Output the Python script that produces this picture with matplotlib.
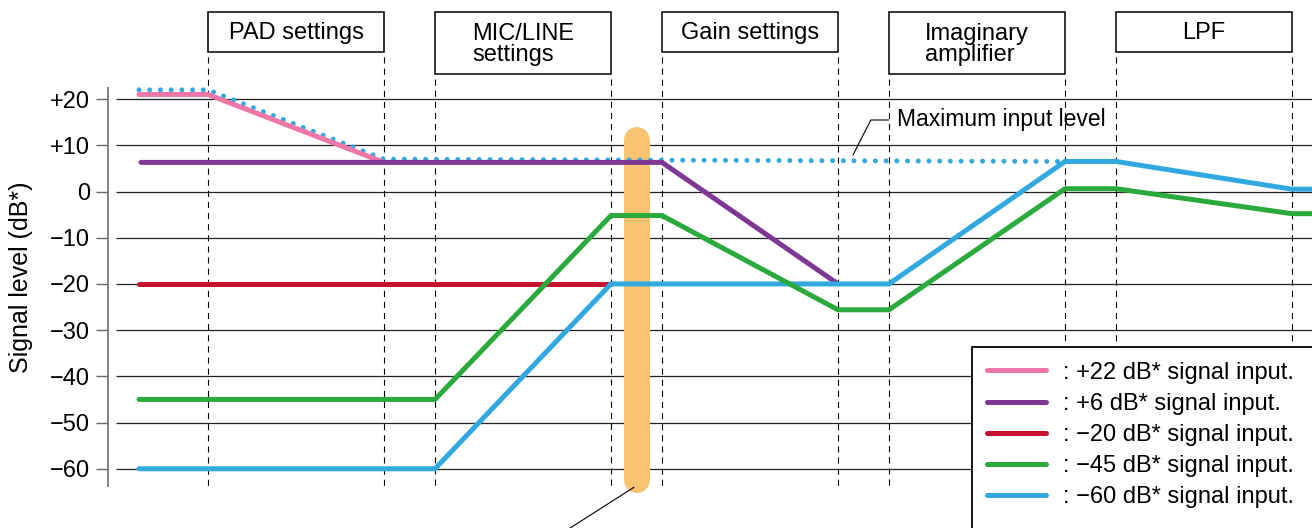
import matplotlib
matplotlib.use("Agg")
import matplotlib.pyplot as plt
from matplotlib.patches import Rectangle

plt.rcParams['font.family'] = ['Liberation Sans', 'DejaVu Sans']
plt.rcParams['lines.scale_dashes'] = False

# ---------------- data ----------------
stage_labels = ["PAD settings", "MIC/LINE\nsettings", "Gain settings",
                "Imaginary\namplifier", "LPF"]
stage_left = [208, 435, 662, 889, 1116]      # stage start positions
stage_right = [384, 611, 838, 1065, 1292]    # stage end positions

yticks = [-60, -50, -40, -30, -20, -10, 0, 10, 20]
ytick_labels = ["\u221260", "\u221250", "\u221240", "\u221230", "\u221220",
                "\u221210", "0", "+10", "+20"]

series_labels = [": +22 dB* signal input.", ": +6 dB* signal input.",
                 ": \u221220 dB* signal input.", ": \u221245 dB* signal input.",
                 ": \u221260 dB* signal input."]
series_colors = ["#EE77A8", "#7E3794", "#C4122F", "#2AAA3C", "#32A8E0"]

pink_x = [139, 208, 384]
pink_y = [21, 21, 6.3]
purple_x = [141, 662, 838]
purple_y = [6.3, 6.3, -20]
red_x = [139, 611]
red_y = [-20, -20]
green_x = [139, 435, 611, 662, 838, 889, 1065, 1116, 1292, 1312]
green_y = [-45, -45, -5.2, -5.2, -25.6, -25.6, 0.6, 0.6, -4.8, -4.8]
blue_x = [139, 435, 611, 889, 1065, 1116, 1292, 1312]
blue_y = [-60, -60, -20, -20, 6.5, 6.5, 0.5, 0.5]
maxlvl_x = [139, 208, 384, 1065]
maxlvl_y = [22, 22, 7, 6.5]

# ---------------- figure ----------------
W, H = 1312, 528
fig = plt.figure(figsize=(W / 100, H / 100), dpi=100)
ax = fig.add_axes([108 / W, (H - 486) / H, (W - 108) / W, (486 - 88) / H])
ax.set_xlim(108, 1312)
ax.set_ylim(-63.73, 22.4)
ax.patch.set_alpha(0)

FS = 17
for s in ["top", "right", "bottom"]:
    ax.spines[s].set_visible(False)
ax.spines["left"].set_color("#777777")
ax.spines["left"].set_linewidth(1.3)
ax.set_xticks([])
ax.set_yticks(yticks)
ax.set_yticklabels(ytick_labels, fontsize=FS)
ax.tick_params(axis="y", direction="out", length=9, width=1.0,
               color="#666666", pad=4)
ax.set_ylabel("Signal level (dB*)", fontsize=18)
ax.yaxis.set_label_coords((21 - 108) / 1204, (486 - 277) / 398)
ax.yaxis.label.set_va("center")

# grid lines
ax.hlines(yticks, 116, 1312, color="#222222", lw=0.9, zorder=1)

# stage boxes and dashed boundaries
box_top, box_bot_short, box_bot_tall = 38.85, 30.19, 25.43
dash_bottom = -64.6
for lab, xl, xr in zip(stage_labels, stage_left, stage_right):
    tall = "\n" in lab
    bot = box_bot_tall if tall else box_bot_short
    ax.add_patch(Rectangle((xl, bot), xr - xl, box_top - bot, fill=False,
                           ec="black", lw=1.1, clip_on=False, zorder=2))
    ax.text((xl + xr) / 2, (box_top + bot) / 2 - 0.3, lab, ha="center",
            va="center", multialignment="left", fontsize=FS,
            linespacing=0.92, clip_on=False)
    dtop = bot - 1.1
    for xv in (xl, xr):
        ax.plot([xv, xv], [dtop, dash_bottom], color="black", lw=0.8,
                dashes=[4.4, 3.6], clip_on=False, zorder=1.5)

# highlight bar
ax.plot([637, 637], [11.2, -62.4], color="#F8C471", lw=18.7,
        solid_capstyle="round", zorder=1.2, clip_on=False)
ax.annotate("", xy=(634, -64.0), xytext=(558, -74.5),
            arrowprops=dict(arrowstyle="-", color="black", lw=0.8,
                            shrinkA=0, shrinkB=0),
            annotation_clip=False)

# maximum input level (dotted)
ax.plot(maxlvl_x, maxlvl_y, color="#34A9E1", lw=3.6, dashes=[0.01, 7.7],
        dash_capstyle="round", zorder=3, clip_on=False)
ax.annotate("Maximum input level", xy=(853, 7.9),
            xytext=(897, 22.4 - (120 - 88) / 4.621),
            va="center", ha="left", fontsize=16.5,
            arrowprops=dict(arrowstyle="-", color="black", lw=0.8,
                            connectionstyle="angle,angleA=0,angleB=63",
                            shrinkA=4, shrinkB=0, relpos=(0, 0.5)))

# signal lines
all_x = [pink_x, purple_x, red_x, blue_x, green_x]
all_y = [pink_y, purple_y, red_y, blue_y, green_y]
order_idx = [0, 1, 2, 4, 3]
handles = [None] * 5
for z, (xs, ys, i) in enumerate(zip(all_x, all_y, order_idx)):
    ln, = ax.plot(xs, ys, color=series_colors[i], lw=3.6,
                  solid_capstyle="round", solid_joinstyle="miter",
                  label=series_labels[i], zorder=3.2 + z * 0.1, clip_on=False)
    handles[i] = ln

# legend with box running off the figure
ax.add_patch(Rectangle((972 / W, -0.2), 1.0, (H - 347) / H + 0.2,
                       transform=fig.transFigure, fc="white", ec="black",
                       lw=1.3, clip_on=False, zorder=4.5))
leg = ax.legend(handles=handles, loc="upper left",
                bbox_to_anchor=(972 / W, 1 - 347 / H),
                bbox_transform=fig.transFigure, borderaxespad=0,
                borderpad=0.62, handlelength=2.5, handletextpad=0.75,
                labelspacing=0.39, fontsize=FS, frameon=False)
leg.set_zorder(5)

fig.savefig("out.png", dpi=100)
